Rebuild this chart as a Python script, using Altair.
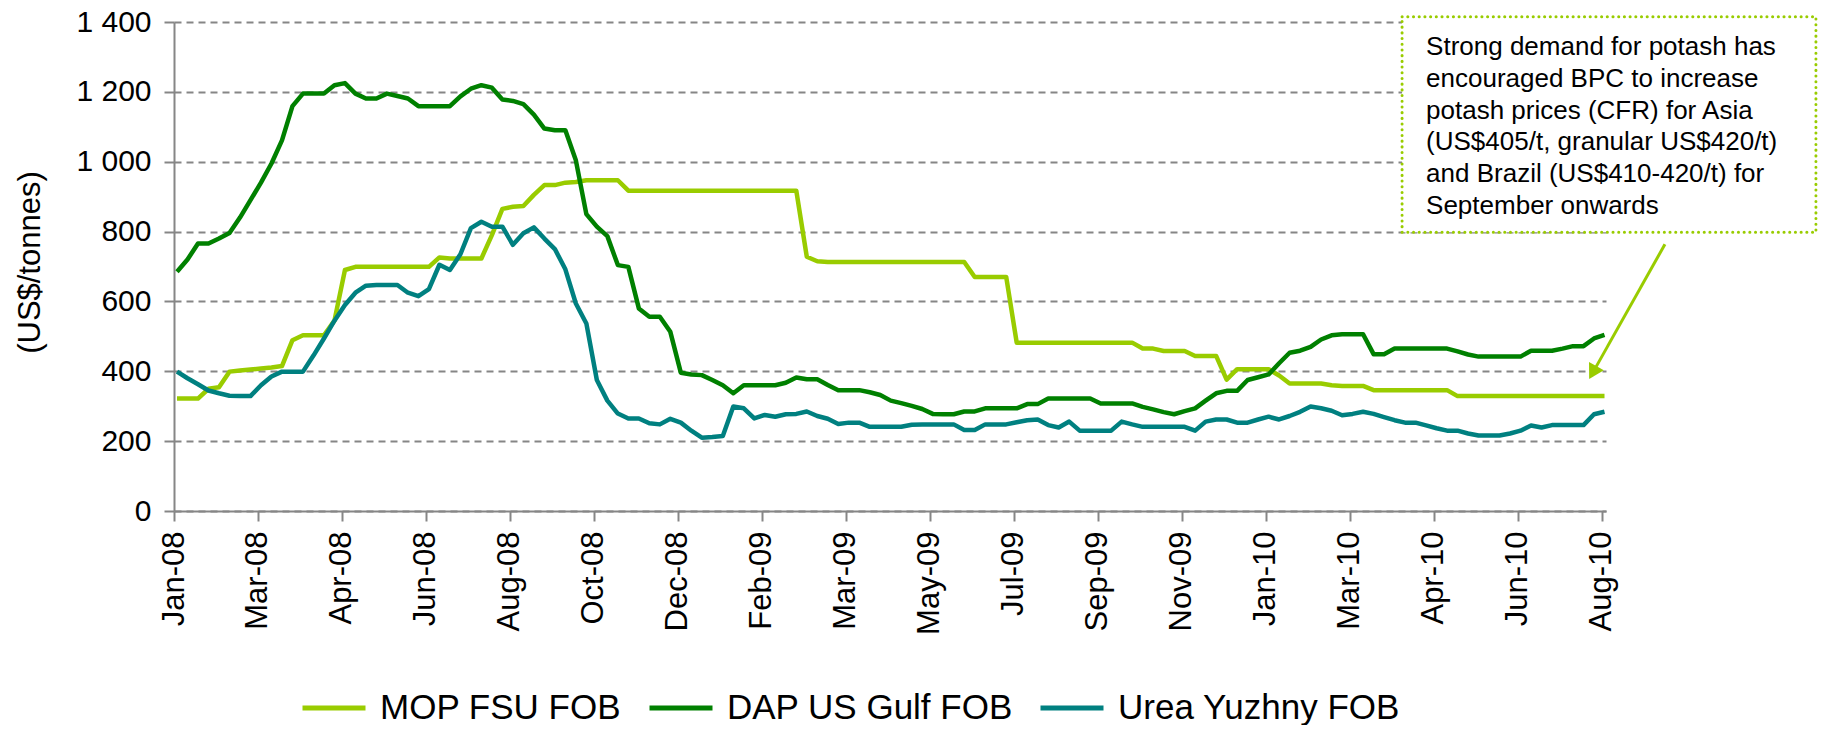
import altair as alt
import pandas as pd

FONT = "Liberation Sans"
GREY = "#868686"
LIGHT = "#99CC00"

SERIES = ["MOP FSU FOB", "DAP US Gulf FOB", "Urea Yuzhny FOB"]
COLORS = ["#99CC00", "#008000", "#008080"]

TICK_LABELS = ["Jan-08", "Mar-08", "Apr-08", "Jun-08", "Aug-08", "Oct-08",
               "Dec-08", "Feb-09", "Mar-09", "May-09", "Jul-09", "Sep-09",
               "Nov-09", "Jan-10", "Mar-10", "Apr-10", "Jun-10", "Aug-10"]

# weekly observations, axis labelled every 8 weeks
AXIS_START = pd.Timestamp("2008-01-07")
WEEK_DATES = pd.date_range("2008-01-09", periods=137, freq="7D")
TICK_DATES = pd.date_range("2008-01-07", periods=18, freq="56D")

MOP = [
    322, 322, 322, 350, 354, 399, 402, 405, 408, 411,
    415, 489, 503, 503, 503, 545, 690, 699, 699, 699,
    699, 699, 699, 699, 699, 726, 723, 723, 723, 723,
    790, 865, 871, 873, 905, 933, 933, 940, 942, 947,
    947, 947, 947, 917, 917, 917, 917, 917, 917, 917,
    917, 917, 917, 917, 917, 917, 917, 917, 917, 917,
    728, 715, 713, 713, 713, 713, 713, 713, 713, 713,
    713, 713, 713, 713, 713, 713, 670, 670, 670, 670,
    482, 482, 482, 482, 482, 482, 482, 482, 482, 482,
    482, 482, 465, 465, 458, 458, 458, 444, 444, 444,
    376, 406, 406, 406, 406, 388, 365, 365, 365, 365,
    360, 358, 358, 358, 346, 346, 346, 346, 346, 346,
    346, 346, 329, 329, 329, 329, 329, 329, 329, 329,
    329, 329, 329, 329, 329, 329, 329]

DAP = [
    685, 720, 766, 766, 780, 796, 840, 890, 940, 995,
    1061, 1159, 1195, 1195, 1195, 1219, 1225, 1195, 1181, 1181,
    1195, 1188, 1181, 1159, 1159, 1159, 1159, 1187, 1209, 1219,
    1212, 1178, 1174, 1165, 1135, 1095, 1090, 1090, 1004, 850,
    814, 787, 704, 699, 580, 556, 556, 513, 396, 391,
    389, 375, 360, 337, 360, 360, 360, 360, 367, 382,
    377, 377, 361, 346, 346, 346, 340, 332, 316, 309,
    301, 292, 278, 277, 277, 285, 285, 294, 294, 294,
    294, 306, 306, 322, 322, 322, 322, 322, 308, 308,
    308, 308, 298, 291, 283, 277, 286, 294, 316, 337,
    344, 344, 375, 383, 391, 423, 453, 459, 470, 491,
    503, 506, 506, 506, 449, 449, 465, 465, 465, 465,
    465, 465, 457, 448, 442, 442, 442, 442, 442, 459,
    459, 459, 465, 472, 472, 494, 504]

UREA = [
    399, 380, 363, 345, 337, 330, 329, 329, 360, 385,
    399, 399, 399, 445, 494, 545, 590, 625, 645, 647,
    647, 647, 625, 615, 635, 705, 690, 735, 810, 828,
    814, 814, 762, 795, 812, 780, 750, 692, 594, 537,
    375, 316, 279, 265, 265, 251, 248, 264, 253, 230,
    210, 212, 215, 299, 294, 265, 275, 270, 277, 278,
    285, 272, 264, 249, 253, 253, 241, 241, 241, 241,
    247, 248, 248, 248, 248, 232, 232, 248, 248, 248,
    254, 260, 262, 246, 239, 256, 230, 230, 230, 230,
    256, 248, 241, 241, 241, 241, 241, 230, 256, 262,
    262, 253, 253, 262, 270, 262, 272, 284, 299, 294,
    287, 274, 278, 284, 278, 269, 260, 253, 253, 245,
    237, 230, 230, 222, 216, 216, 216, 222, 230, 245,
    239, 246, 246, 246, 246, 277, 284]

NOTE_LINES = ["Strong demand for potash has",
              "encouraged BPC to increase",
              "potash prices (CFR) for Asia",
              "(US$405/t, granular US$420/t)",
              "and Brazil (US$410-420/t) for",
              "September onwards"]

days = [(d - AXIS_START).days for d in WEEK_DATES]
tick_days = [(d - AXIS_START).days for d in TICK_DATES]

rows = []
for name, vals in zip(SERIES, [MOP, DAP, UREA]):
    for dd, v in zip(days, vals):
        rows.append({"series": name, "day": dd, "price": v})
df = pd.DataFrame(rows)

label_expr = "[" + ",".join("'%s'" % s for s in TICK_LABELS) + "][round(datum.value / 56)]"

X = alt.X("day:Q",
          scale=alt.Scale(domain=[0, 955], nice=False, zero=False),
          axis=alt.Axis(values=tick_days, labelExpr=label_expr, title=None,
                        labelAngle=270, labelFontSize=31, labelPadding=10,
                        labelColor="black", labelFlush=False, labelOverlap=False,
                        labelBound=False, tickSize=10, tickWidth=2, tickColor=GREY,
                        domainColor=GREY, domainWidth=2, grid=False))
Y = alt.Y("price:Q",
          scale=alt.Scale(domain=[0, 1400], nice=False),
          axis=alt.Axis(values=list(range(0, 1401, 200)),
                        labelExpr="replace(format(datum.value, ','), ',', ' ')",
                        title="(US$/tonnes)", titleFontSize=31, titleFontWeight="normal",
                        titleColor="black", titleAngle=270, titleX=-144, titleY=240,
                        titleAlign="center", titleBaseline="middle",
                        labelFontSize=30, labelPadding=13, labelColor="black",
                        tickSize=10, tickWidth=2, tickColor=GREY,
                        domainColor=GREY, domainWidth=2,
                        grid=True, gridColor=GREY, gridDash=[7, 5], gridWidth=2))

lines = alt.Chart(df).mark_line(strokeWidth=4.5, strokeJoin="round").encode(
    x=X, y=Y,
    color=alt.Color("series:N", scale=alt.Scale(domain=SERIES, range=COLORS),
                    legend=alt.Legend(title=None, orient="none", legendX=126, legendY=652,
                                      direction="horizontal", columns=3,
                                      symbolType="stroke", symbolSize=3969,
                                      symbolStrokeWidth=5, labelFontSize=35,
                                      labelColor="black", labelOffset=12,
                                      columnPadding=17, padding=0, labelLimit=500)),
    order=alt.Order("day:Q"),
)

box_df = pd.DataFrame([{"day": 819, "day2": 1095, "price": 1415, "price2": 798}])
box = alt.Chart(box_df).mark_rect(fill="white", stroke=LIGHT, strokeWidth=3,
                                  strokeDash=[0.1, 5.6], strokeCap="round").encode(
    x=X, x2="day2:Q", y=Y, y2="price2:Q")

note_df = pd.DataFrame([{"day": 835, "price": 1305}])
note = alt.Chart(note_df).mark_text(text=NOTE_LINES, align="left", baseline="alphabetic",
                                    fontSize=26, lineHeight=31.7, color="black").encode(
    x=X, y=Y)

arrow_df = pd.DataFrame([{"day": 994.3, "price": 763.6, "day2": 946.2, "price2": 396.2}])
arrow = alt.Chart(arrow_df).mark_rule(color=LIGHT, strokeWidth=3).encode(
    x=X, y=Y, x2="day2:Q", y2="price2:Q")

head_df = pd.DataFrame([{"day": 946.2, "price": 396.2}])
head = alt.Chart(head_df).mark_point(shape="triangle-down", filled=True, size=290,
                                     angle=29.4, color=LIGHT, opacity=1).encode(
    x=X, y=Y)

chart = alt.layer(lines, box, note, arrow, head).properties(
    width=1432, height=489,
    autosize=alt.AutoSizeParams(type="none"),
    padding={"left": 166, "top": 14, "right": 213, "bottom": 214},
).configure_view(stroke=None).configure_axis(
    labelFont=FONT, titleFont=FONT
).configure_legend(labelFont=FONT).configure_text(font=FONT)

chart.save("out.html", embed_options={"renderer": "svg", "actions": False})
